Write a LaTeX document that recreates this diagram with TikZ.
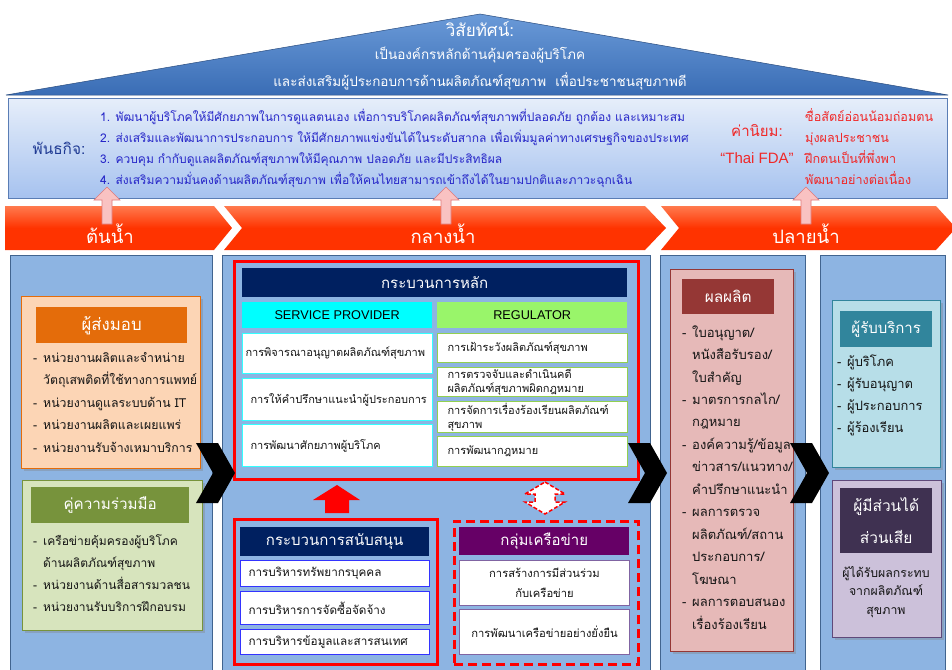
\documentclass[tikz,border=0pt]{standalone}
\usepackage{fontspec}
\newfontfamily\thai[Script=Thai]{Loma}
\newfontfamily\latn{Liberation Sans}
\usetikzlibrary{shadows,positioning}

\definecolor{Croof}{HTML}{3A6DB5}
\definecolor{Crooftop}{HTML}{6A9AD8}
\definecolor{Cmistop}{HTML}{E6EEFA}
\definecolor{Cmisbot}{HTML}{A6C2EF}
\definecolor{Cmisline}{HTML}{5A7DB5}
\definecolor{Cmisblue}{HTML}{2626C8}
\definecolor{Cmishead}{HTML}{1F3A93}
\definecolor{Cvalred}{HTML}{F02828}
\definecolor{Cband}{HTML}{FF3300}
\definecolor{Cbandtop}{HTML}{FF7A4E}
\definecolor{Cpink}{HTML}{F9C2C2}
\definecolor{Cpinkline}{HTML}{E07A7A}
\definecolor{Ccolbg}{HTML}{8DB4E2}
\definecolor{Ccolline}{HTML}{41648F}
\definecolor{Csupfill}{HTML}{FCD5B5}
\definecolor{Csupline}{HTML}{E46C0A}
\definecolor{Cpartfill}{HTML}{D7E4BD}
\definecolor{Cpartline}{HTML}{77933C}
\definecolor{Coutfill}{HTML}{E6B9B8}
\definecolor{Coutline}{HTML}{953735}
\definecolor{Ccustfill}{HTML}{B7DEE8}
\definecolor{Ccustline}{HTML}{31859C}
\definecolor{Cstakefill}{HTML}{CCC1DA}
\definecolor{Cstakeline}{HTML}{5F497A}
\definecolor{Cstakehdr}{HTML}{3F3151}
\definecolor{Cnavy}{HTML}{002060}
\definecolor{Ccyan}{HTML}{00FFFF}
\definecolor{Cregfill}{HTML}{99F56A}
\definecolor{Cregline}{HTML}{92D050}
\definecolor{Cspline}{HTML}{33FFFF}
\definecolor{Csuppline}{HTML}{3333FF}
\definecolor{Cnethdr}{HTML}{660066}
\definecolor{Cnetline}{HTML}{8064A2}
\definecolor{Ctxt}{HTML}{141414}

\newcommand{\itm}[1]{\makebox[10pt][l]{-}#1}
\newcommand{\cnt}[1]{\hspace*{10pt}#1}

\begin{document}
\begin{tikzpicture}[x=1pt,y=-1pt,
    colbg/.style={draw=Ccolline,fill=Ccolbg,line width=0.8pt,anchor=north west,inner sep=0pt},
    grpbox/.style={draw=#1,line width=1.3pt,anchor=north west,inner sep=0pt,
      drop shadow={opacity=0.35,shadow xshift=2pt,shadow yshift=-2pt}},
    hdr/.style={fill=#1,text=white,anchor=north west,inner sep=0pt,align=center,
      font=\thai\fontsize{16}{18}\selectfont},
    listtxt/.style={anchor=base west,inner sep=0pt,align=left,text=Ctxt,
      font=\thai\fontsize{12.3}{22.5}\selectfont},
    cellbox/.style={draw=#1,fill=white,line width=1pt,anchor=north west,inner sep=0pt,
      inner xsep=3pt,align=left,text=Ctxt,font=\thai\fontsize{11}{14}\selectfont},
    redbox/.style={draw=red,line width=2.5pt,anchor=north west,inner sep=0pt},
    bandlbl/.style={text=white,font=\thai\fontsize{18.5}{20}\selectfont},
    pinkarr/.style={fill=Cpink,draw=Cpinkline,line width=0.6pt},
  ]
  \useasboundingbox[fill=white] (0,0) rectangle (952,669);

  % roof with vision
  \shade[top color=Crooftop,bottom color=Croof,draw=Croof!70!black,line width=0.5pt]
    (480,14) -- (948,95) -- (6,95) -- cycle;
  \node[text=white,font=\thai\fontsize{17}{19}\selectfont] (vis) at (480,29) {วิสัยทัศน์:};
  \node[text=white,font=\thai\fontsize{13.5}{15}\selectfont] (vis1) at (480,55)
    {เป็นองค์กรหลักด้านคุ้มครองผู้บริโภค};
  \node[text=white,font=\thai\fontsize{13.5}{15}\selectfont] (vis2) at (480,81)
    {และส่งเสริมผู้ประกอบการด้านผลิตภัณฑ์สุขภาพ\ \ เพื่อประชาชนสุขภาพดี};

  % mission band (base anchor = last line)
  \node[draw=Cmisline,top color=Cmistop,bottom color=Cmisbot,line width=0.8pt,
    anchor=north west,inner sep=0pt,minimum width=939pt,minimum height=100pt] (mis) at (8,98) {};
  \node[text=Cmishead,font=\thai\fontsize{15.4}{17}\selectfont] (mishd) at (59,148) {พันธกิจ:};
  \node[anchor=base west,inner sep=0pt,align=left,text=Cmisblue,
    font=\thai\fontsize{12}{21}\selectfont] (mistxt) at (100,184)
    {1. พัฒนาผู้บริโภคให้มีศักยภาพในการดูแลตนเอง เพื่อการบริโภคผลิตภัณฑ์สุขภาพที่ปลอดภัย ถูกต้อง และเหมาะสม\\
     2. ส่งเสริมและพัฒนาการประกอบการ ให้มีศักยภาพแข่งขันได้ในระดับสากล เพื่อเพิ่มมูลค่าทางเศรษฐกิจของประเทศ\\
     3. ควบคุม กำกับดูแลผลิตภัณฑ์สุขภาพให้มีคุณภาพ ปลอดภัย และมีประสิทธิผล\\
     4. ส่งเสริมความมั่นคงด้านผลิตภัณฑ์สุขภาพ เพื่อให้คนไทยสามารถเข้าถึงได้ในยามปกติและภาวะฉุกเฉิน};
  \node[text=Cvalred,font=\thai\fontsize{15}{17}\selectfont] (valhd) at (757,131) {ค่านิยม:};
  \node[text=Cvalred,font=\latn\fontsize{15}{17}\selectfont] (fda) at (757,158) {“Thai FDA”};
  \node[anchor=base west,inner sep=0pt,align=left,text=Cvalred,
    font=\thai\fontsize{12.6}{21}\selectfont] (valtxt) at (805,184)
    {ซื่อสัตย์อ่อนน้อมถ่อมตน\\มุ่งผลประชาชน\\ฝึกตนเป็นที่พึ่งพา\\พัฒนาอย่างต่อเนื่อง};

  % upstream / midstream / downstream band
  \shade[top color=Cbandtop,bottom color=Cband,middle color=Cband]
    (5,206) -- (214,206) -- (232,228) -- (214,250) -- (5,250) -- cycle;
  \shade[top color=Cbandtop,bottom color=Cband,middle color=Cband]
    (224,206) -- (645,206) -- (666,228) -- (645,250) -- (224,250) -- (242,228) -- cycle;
  \shade[top color=Cbandtop,bottom color=Cband,middle color=Cband]
    (661,206) -- (936,206) -- (956,228) -- (936,250) -- (661,250) -- (679,228) -- cycle;
  \foreach \x in {107,446,806}{
    \draw[pinkarr] (\x,187) -- (\x+13,200) -- (\x+5,200) -- (\x+5,224)
      -- (\x-5,224) -- (\x-5,200) -- (\x-13,200) -- cycle;}
  \node[bandlbl] (up) at (110,234) {ต้นน้ำ};
  \node[bandlbl] (mid) at (443,234) {กลางน้ำ};
  \node[bandlbl] (down) at (806,234) {ปลายน้ำ};

  % column backgrounds
  \node[colbg,minimum width=202pt,minimum height=420pt] (colA) at (10,255) {};
  \node[colbg,minimum width=428pt,minimum height=420pt] (colB) at (222,255) {};
  \node[colbg,minimum width=145pt,minimum height=420pt] (colC) at (660,255) {};
  \node[colbg,minimum width=125pt,minimum height=420pt] (colD) at (820,255) {};

  % suppliers
  \node[grpbox=Csupline,fill=Csupfill,minimum width=179pt,minimum height=172pt] (sup) at (21,296) {};
  \node[hdr=Csupline,minimum width=151pt,minimum height=36pt,
    font=\thai\fontsize{16.8}{18}\selectfont] (suphd) at (36,307) {ผู้ส่งมอบ};
  \node[listtxt] (suptxt) at (33,452)
    {\itm{หน่วยงานผลิตและจำหน่าย}\\\cnt{วัตถุเสพติดที่ใช้ทางการแพทย์}\\
     \itm{หน่วยงานดูแลระบบด้าน IT}\\\itm{หน่วยงานผลิตและเผยแพร่}\\
     \itm{หน่วยงานรับจ้างเหมาบริการ}};

  % partners
  \node[grpbox=Cpartline,fill=Cpartfill,minimum width=180pt,minimum height=150pt] (part) at (22,480) {};
  \node[hdr=Cpartline,minimum width=158pt,minimum height=36pt,
    font=\thai\fontsize{15.2}{18}\selectfont] (parthd) at (31,487) {คู่ความร่วมมือ};
  \node[listtxt,font=\thai\fontsize{12}{22}\selectfont] (parttxt) at (33,611)
    {\itm{เครือข่ายคุ้มครองผู้บริโภค}\\\cnt{ด้านผลิตภัณฑ์สุขภาพ}\\
     \itm{หน่วยงานด้านสื่อสารมวลชน}\\\itm{หน่วยงานรับบริการฝึกอบรม}};

  % core processes
  \node[redbox,minimum width=404pt,minimum height=218pt] (core) at (233,260) {};
  \node[hdr=Cnavy,minimum width=385pt,minimum height=29pt,
    font=\thai\fontsize{15}{17}\selectfont] (corehd) at (242,268) {กระบวนการหลัก};
  \node[fill=Ccyan,anchor=north west,inner sep=0pt,minimum width=190pt,minimum height=26pt,
    font=\latn\fontsize{12.7}{14}\selectfont] (sp) at (242,302) {SERVICE PROVIDER};
  \node[fill=Cregfill,anchor=north west,inner sep=0pt,minimum width=190pt,minimum height=26pt,
    font=\latn\fontsize{12.7}{14}\selectfont] (reg) at (437,302) {REGULATOR};
  \node[cellbox=Cspline,text width=184pt,minimum height=40pt] (sp1) at (242,333)
    {การพิจารณาอนุญาตผลิตภัณฑ์สุขภาพ};
  \node[cellbox=Cspline,text width=184pt,minimum height=42pt] (sp2) at (242,378)
    {\hspace*{5pt}การให้คำปรึกษาแนะนำผู้ประกอบการ};
  \node[cellbox=Cspline,text width=184pt,minimum height=42pt] (sp3) at (242,424)
    {\hspace*{5pt}การพัฒนาศักยภาพผู้บริโภค};
  \node[cellbox=Cregline,text width=184pt,minimum height=29pt] (reg1) at (437,333)
    {\hspace*{7pt}การเฝ้าระวังผลิตภัณฑ์สุขภาพ};
  \node[cellbox=Cregline,text width=184pt,minimum height=29pt,
    font=\thai\fontsize{11}{14}\selectfont] (reg2) at (437,367)
    {\hspace*{7pt}การตรวจจับและดำเนินคดี\\\hspace*{7pt}ผลิตภัณฑ์สุขภาพผิดกฎหมาย};
  \node[cellbox=Cregline,text width=184pt,minimum height=31pt,
    font=\thai\fontsize{11}{14}\selectfont] (reg3) at (437,401)
    {\hspace*{7pt}การจัดการเรื่องร้องเรียนผลิตภัณฑ์\\\hspace*{7pt}สุขภาพ};
  \node[cellbox=Cregline,text width=184pt,minimum height=30pt] (reg4) at (437,436)
    {\hspace*{7pt}การพัฒนากฎหมาย};

  % support processes
  \node[redbox,minimum width=203pt,minimum height=145pt] (supp) at (233,518) {};
  \node[hdr=Cnavy,minimum width=189pt,minimum height=29pt,
    font=\thai\fontsize{15}{17}\selectfont] (supphd) at (240,527) {กระบวนการสนับสนุน};
  \node[cellbox=Csuppline,text width=183pt,minimum height=26pt,
    font=\thai\fontsize{11.7}{14}\selectfont] (supp1) at (240,560)
    {\hspace*{5pt}การบริหารทรัพยากรบุคคล};
  \node[cellbox=Csuppline,text width=183pt,minimum height=33pt,
    font=\thai\fontsize{11.7}{14}\selectfont] (supp2) at (240,591)
    {\hspace*{5pt}การบริหารการจัดซื้อจัดจ้าง};
  \node[cellbox=Csuppline,text width=183pt,minimum height=25pt,
    font=\thai\fontsize{11.7}{14}\selectfont] (supp3) at (240,629)
    {\hspace*{5pt}การบริหารข้อมูลและสารสนเทศ};

  % network group
  \node[redbox,dashed,dash pattern=on 9pt off 5pt,minimum width=184pt,minimum height=143pt] (net) at (453,520) {};
  \node[hdr=Cnethdr,minimum width=170pt,minimum height=28pt,
    font=\thai\fontsize{15}{17}\selectfont] (nethd) at (459,527) {กลุ่มเครือข่าย};
  \node[cellbox=Cnetline,text width=164pt,minimum height=45pt,align=center,
    font=\thai\fontsize{11.2}{20}\selectfont] (net1) at (459,560)
    {การสร้างการมีส่วนร่วม\\กับเครือข่าย};
  \node[cellbox=Cnetline,text width=164pt,minimum height=45pt,align=center,
    font=\thai\fontsize{11.2}{14}\selectfont] (net2) at (459,609)
    {การพัฒนาเครือข่ายอย่างยั่งยืน};

  % arrows between support, network and core
  \fill[red] (337,485) -- (360,500) -- (349,500) -- (349,513) -- (325,513) -- (325,500)
    -- (313,500) -- cycle;
  \draw[red,fill=white,line width=1.5pt,dash pattern=on 4pt off 2pt]
    (545,482) -- (565,494) -- (555,494) -- (555,502) -- (565,502) -- (545,514)
    -- (525,502) -- (535,502) -- (535,494) -- (525,494) -- cycle;

  % outputs
  \node[grpbox=Coutline,fill=Coutfill,minimum width=123pt,minimum height=382pt] (out) at (670,269) {};
  \node[hdr=Coutline,minimum width=92pt,minimum height=35pt,
    font=\thai\fontsize{15.4}{17}\selectfont] (outhd) at (682,279) {ผลผลิต};
  \node[listtxt,font=\thai\fontsize{13}{22.45}\selectfont] (outtxt) at (682,629)
    {\itm{ใบอนุญาต/}\\\cnt{หนังสือรับรอง/}\\\cnt{ใบสำคัญ}\\
     \itm{มาตรการกลไก/}\\\cnt{กฎหมาย}\\
     \itm{องค์ความรู้/ข้อมูล}\\\cnt{ข่าวสาร/แนวทาง/}\\\cnt{คำปรึกษาแนะนำ}\\
     \itm{ผลการตรวจ}\\\cnt{ผลิตภัณฑ์/สถาน}\\\cnt{ประกอบการ/}\\\cnt{โฆษณา}\\
     \itm{ผลการตอบสนอง}\\\cnt{เรื่องร้องเรียน}};

  % customers
  \node[grpbox=Ccustline,fill=Ccustfill,minimum width=108pt,minimum height=167pt] (cust) at (832,300) {};
  \node[hdr=Ccustline,minimum width=92pt,minimum height=36pt,
    font=\thai\fontsize{15}{17}\selectfont] (custhd) at (840,311) {ผู้รับบริการ};
  \node[listtxt,font=\thai\fontsize{12.9}{21.7}\selectfont] (custtxt) at (837,432)
    {\itm{ผู้บริโภค}\\\itm{ผู้รับอนุญาต}\\\itm{ผู้ประกอบการ}\\\itm{ผู้ร้องเรียน}};

  % stakeholders
  \node[grpbox=Cstakeline,fill=Cstakefill,minimum width=109pt,minimum height=157pt] (stake) at (832,480) {};
  \node[hdr=Cstakehdr,minimum width=92pt,minimum height=65pt,
    font=\thai\fontsize{15.5}{32}\selectfont] (stakehd) at (840,488) {ผู้มีส่วนได้\\ส่วนเสีย};
  \node[listtxt,anchor=base,align=center,font=\thai\fontsize{12.3}{18.5}\selectfont] (staketxt) at (886,614)
    {ผู้ได้รับผลกระทบ\\จากผลิตภัณฑ์\\สุขภาพ};

  % chevrons between the columns
  \foreach \x in {196,628,790}{
    \fill[black] (\x,443) -- ++(22,0) -- ++(17,30) -- ++(-17,30) -- ++(-22,0)
      -- ++(17,-30) -- cycle;}
\end{tikzpicture}
\end{document}
